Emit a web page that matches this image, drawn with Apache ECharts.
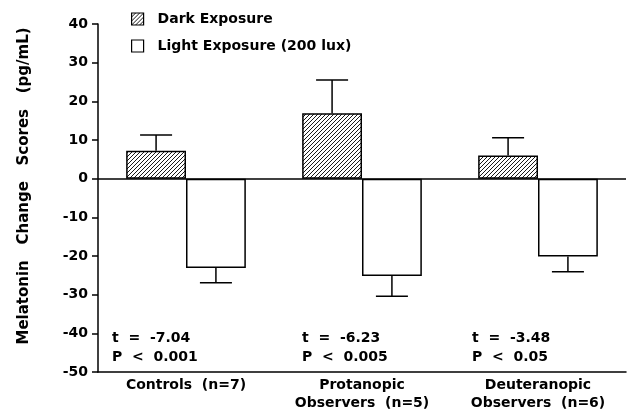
<!DOCTYPE html>
<html><head><meta charset="utf-8">
<script src="https://cdn.jsdelivr.net/npm/echarts@6/dist/echarts.min.js"></script>
<style>html,body{margin:0;padding:0;background:#fff}#c{width:629px;height:412px}</style>
</head><body><div id="c"></div>
<script>
const categories = ['Controls  (n=7)', 'Protanopic\nObservers  (n=5)', 'Deuteranopic\nObservers  (n=6)'];
const darkMean = [7.2, 16.9, 6.0];
const darkUpper = [11.3, 25.5, 10.6];
const lightMean = [-23.1, -25.2, -20.1];
const lightLower = [-26.9, -30.4, -24.1];
const stats = ['t  =  -7.04\nP  <  0.001', 't  =  -6.23\nP  <  0.005', 't  =  -3.48\nP  <  0.05'];
const yTitle = 'Melatonin   Change   Scores   (pg/mL)';
const yTicks = {min: -50, max: 40, interval: 10};

const FONT = 'DejaVu Sans';
function hatch() {
  const c = document.createElement('canvas');
  c.width = 4; c.height = 4;
  const g = c.getContext('2d');
  g.fillStyle = '#fff'; g.fillRect(0, 0, 4, 4);
  g.strokeStyle = '#000'; g.lineWidth = 0.9;
  g.beginPath();
  g.moveTo(-1, 5); g.lineTo(5, -1);
  g.moveTo(-1, 1); g.lineTo(1, -1);
  g.moveTo(3, 5); g.lineTo(5, 3);
  g.stroke();
  return c;
}
const hatchFill = {image: hatch(), repeat: 'repeat'};

const chart = echarts.init(document.getElementById('c'), null, {renderer: 'canvas'});
const BW = 0.34;
const errData = [];
darkUpper.forEach((v, i) => errData.push([i, darkMean[i], v, 0]));
lightLower.forEach((v, i) => errData.push([i, lightMean[i], v, 1]));

chart.setOption({
  animation: false,
  grid: {left: 98, right: 3, top: 24, bottom: 35},
  legend: {
    orient: 'vertical', left: 126, top: 7, itemWidth: 12, itemHeight: 12, itemGap: 13, icon: 'rect',
    data: ['Dark Exposure', 'Light Exposure (200 lux)'],
    textStyle: {fontFamily: FONT, fontWeight: 'bold', fontSize: 14, color: '#000', padding: [0, 0, 0, 9]},
    itemStyle: {borderColor: '#000', borderWidth: 1.2}
  },
  xAxis: {
    type: 'category', data: categories,
    axisLine: {onZero: false, lineStyle: {color: '#000', width: 1.5}},
    axisTick: {show: false},
    axisLabel: {fontFamily: FONT, fontWeight: 'bold', fontSize: 14, color: '#000', lineHeight: 18, margin: 4, interval: 0}
  },
  yAxis: {
    type: 'value', min: yTicks.min, max: yTicks.max, interval: yTicks.interval,
    axisLine: {show: true, lineStyle: {color: '#000', width: 1.5}},
    axisTick: {show: true, length: 6, lineStyle: {color: '#000', width: 1.5}},
    splitLine: {show: false},
    axisLabel: {fontFamily: FONT, fontWeight: 'bold', fontSize: 14, color: '#000', margin: 10}
  },
  series: [
    {
      name: 'Dark Exposure', type: 'bar', data: darkMean, barWidth: (BW * 100) + '%', barGap: '0%',
      itemStyle: {color: hatchFill, borderColor: '#000', borderWidth: 1.5},
      markLine: {silent: true, symbol: 'none', label: {show: false},
        lineStyle: {color: '#000', width: 1.5, type: 'solid'}, data: [{yAxis: 0}]}
    },
    {
      name: 'Light Exposure (200 lux)', type: 'bar', data: lightMean, barWidth: (BW * 100) + '%', barGap: '0%',
      itemStyle: {color: '#fff', borderColor: '#000', borderWidth: 1.5}
    },
    {
      type: 'custom', z: 10, data: errData,
      renderItem: (params, api) => {
        const cat = api.value(0), mean = api.value(1), end = api.value(2), side = api.value(3);
        const p0 = api.coord([cat, mean]);
        const p1 = api.coord([cat, end]);
        const band = api.size([1, 0])[0];
        const bw = band * BW;
        const x = p0[0] + (side === 0 ? -bw / 2 : bw / 2);
        const st = {stroke: '#000', lineWidth: 1.5};
        return {type: 'group', children: [
          {type: 'line', shape: {x1: x, y1: p0[1], x2: x, y2: p1[1]}, style: st},
          {type: 'line', shape: {x1: x - 16, y1: p1[1], x2: x + 16, y2: p1[1]}, style: st}
        ]};
      }
    }
  ],
  graphic: stats.map((s, i) => ({
    type: 'text', left: [112, 302, 472][i], top: 329,
    style: {text: s, font: 'bold 14px "' + FONT + '"', fill: '#000', lineHeight: 19}
  })).concat([{
    type: 'text', x: 24, y: 186, rotation: Math.PI / 2,
    style: {text: yTitle, font: 'bold 15px "' + FONT + '"', fill: '#000', align: 'center', verticalAlign: 'middle'}
  }])
});
</script></body></html>
